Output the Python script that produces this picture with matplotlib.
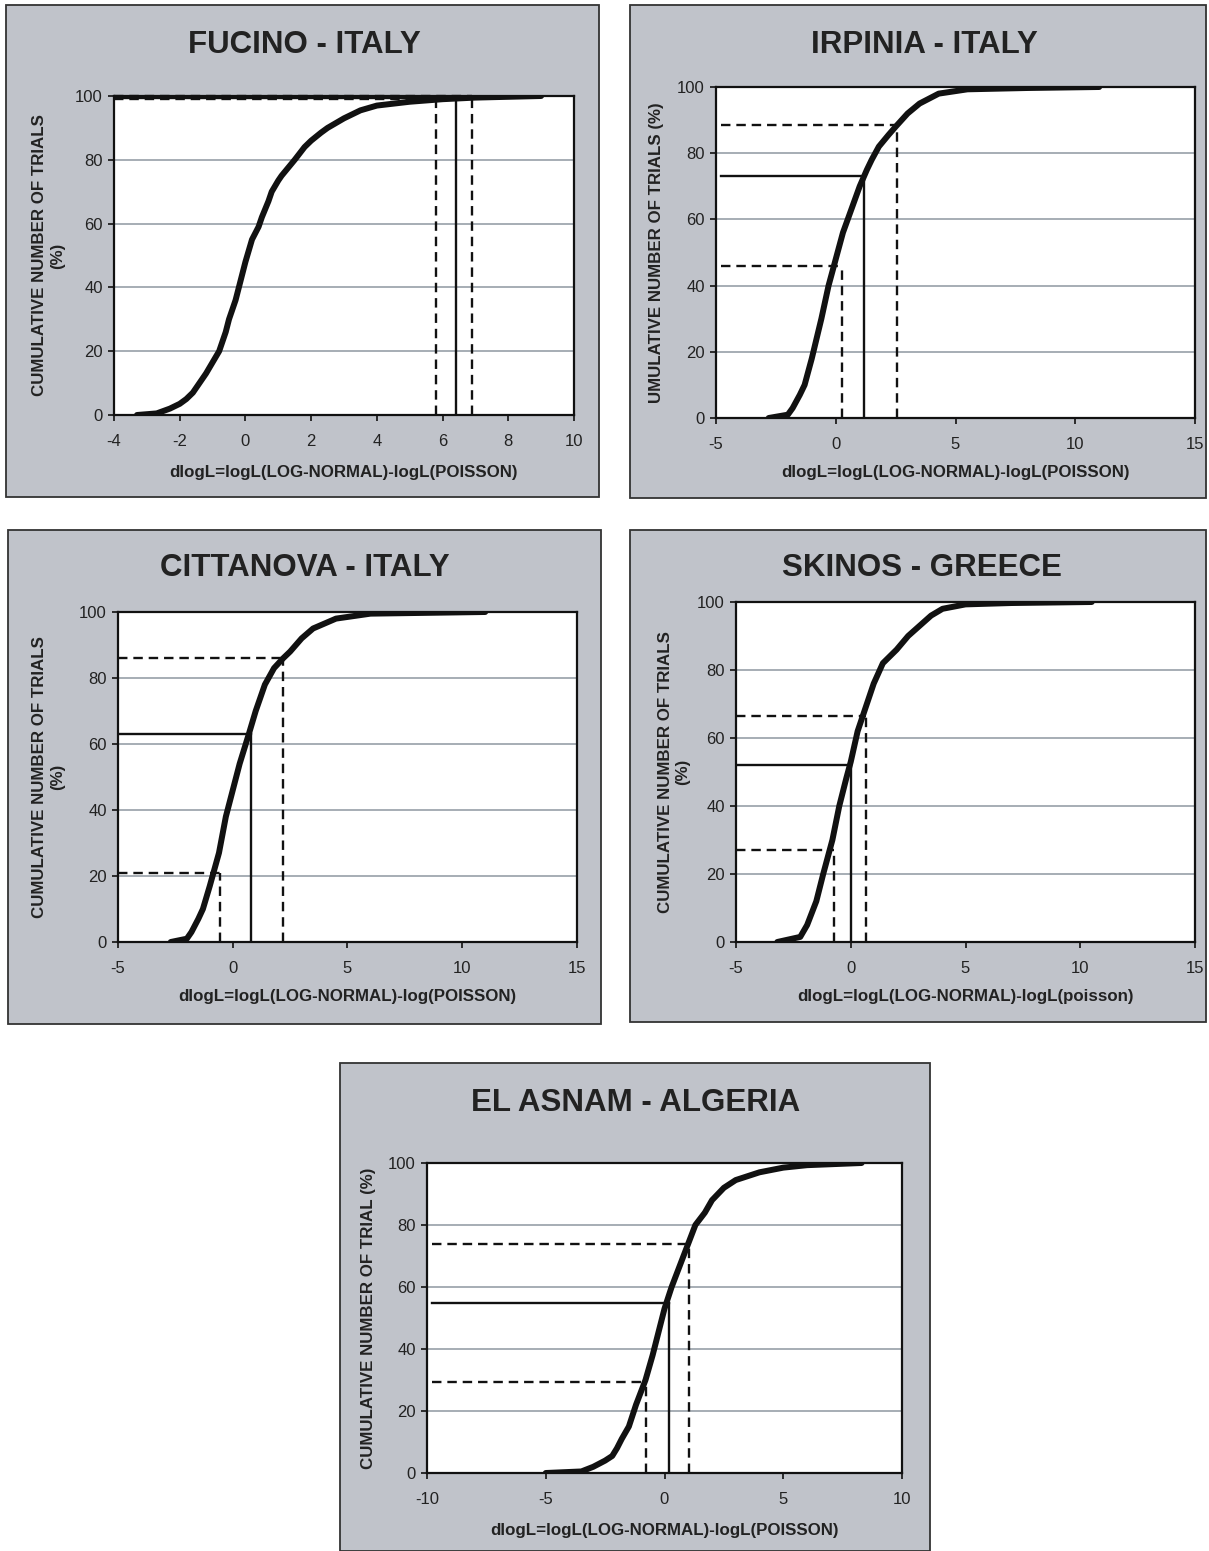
import matplotlib
matplotlib.use("Agg")
import matplotlib.pyplot as plt
from matplotlib.patches import Rectangle

plt.rcParams['font.family'] = ['Liberation Sans', 'DejaVu Sans']
plt.rcParams['axes.unicode_minus'] = False

W, H, DPI = 1209, 1551, 100
BG = '#c0c3ca'
GRID = '#a6adb4'

# ---------------- data ----------------
titles = ["FUCINO - ITALY", "IRPINIA - ITALY", "CITTANOVA - ITALY",
          "SKINOS - GREECE", "EL ASNAM - ALGERIA"]
xlabels = ["dlogL=logL(LOG-NORMAL)-logL(POISSON)",
           "dlogL=logL(LOG-NORMAL)-logL(POISSON)",
           "dlogL=logL(LOG-NORMAL)-log(POISSON)",
           "dlogL=logL(LOG-NORMAL)-logL(poisson)",
           "dlogL=logL(LOG-NORMAL)-logL(POISSON)"]
ylabels = ["CUMULATIVE NUMBER OF TRIALS\n(%)",
           "UMULATIVE NUMBER OF TRIALS (%)",
           "CUMULATIVE NUMBER OF TRIALS\n(%)",
           "CUMULATIVE NUMBER OF TRIALS\n(%)",
           "CUMULATIVE NUMBER OF TRIAL (%)"]
xlims = [(-4, 10), (-5, 15), (-5, 15), (-5, 15), (-10, 10)]
xtick_steps = [2, 5, 5, 5, 5]

fucino_x = [-3.3, -2.7, -2.3, -2.0, -1.8, -1.6, -1.4, -1.2, -1.0, -0.8, -0.6, -0.5, -0.3, -0.2, 0.0, 0.2, 0.4, 0.5, 0.7, 0.8, 1.0, 1.1, 1.3, 1.5, 1.8, 2.0, 2.3, 2.5, 3.0, 3.5, 4.0, 5.0, 6.0, 7.0, 9.0]
fucino_y = [0.0, 0.5, 2.0, 3.5, 5.0, 7.0, 10.0, 13.0, 16.5, 20.0, 26.0, 30.0, 36.0, 40.0, 48.0, 55.0, 59.0, 62.0, 67.0, 70.0, 73.5, 75.0, 77.5, 80.0, 84.0, 86.0, 88.5, 90.0, 93.0, 95.5, 97.0, 98.2, 99.0, 99.5, 100.0]

irpinia_x = [-2.8, -2.0, -1.8, -1.5, -1.3, -1.0, -0.8, -0.6, -0.3, 0.0, 0.3, 0.6, 0.8, 1.0, 1.3, 1.5, 1.8, 2.2, 2.5, 3.0, 3.5, 4.3, 5.5, 8.0, 11.0]
irpinia_y = [0.0, 1.0, 3.0, 7.0, 10.0, 18.0, 24.0, 30.0, 40.0, 48.0, 56.0, 62.0, 66.0, 70.0, 75.0, 78.0, 82.0, 85.5, 88.0, 92.0, 95.0, 98.0, 99.3, 99.7, 100.0]

cittanova_x = [-2.7, -2.0, -1.8, -1.5, -1.3, -1.0, -0.8, -0.6, -0.3, 0.0, 0.3, 0.7, 1.0, 1.4, 1.8, 2.2, 2.5, 3.0, 3.5, 4.5, 6.0, 11.0]
cittanova_y = [0.0, 1.0, 3.0, 7.0, 10.0, 17.0, 22.0, 27.0, 38.0, 46.0, 54.0, 63.0, 70.0, 78.0, 83.0, 86.0, 88.0, 92.0, 95.0, 98.0, 99.5, 100.0]

skinos_x = [-3.2, -2.2, -1.9, -1.7, -1.5, -1.2, -1.0, -0.8, -0.5, -0.2, 0.0, 0.3, 0.6, 1.0, 1.4, 2.0, 2.5, 3.0, 3.5, 4.0, 5.0, 7.0, 10.5]
skinos_y = [0.0, 1.5, 5.0, 8.5, 12.0, 20.0, 25.0, 30.0, 40.0, 48.0, 53.0, 62.0, 68.0, 76.0, 82.0, 86.0, 90.0, 93.0, 96.0, 98.0, 99.3, 99.7, 100.0]

elasnam_x = [-5.0, -3.5, -3.0, -2.5, -2.2, -2.0, -1.8, -1.5, -1.2, -1.0, -0.8, -0.5, -0.2, 0.0, 0.3, 0.6, 1.0, 1.3, 1.7, 2.0, 2.5, 3.0, 4.0, 5.0, 6.0, 8.3]
elasnam_y = [0.0, 0.5, 2.0, 4.0, 5.5, 8.0, 11.0, 15.0, 22.0, 26.0, 30.0, 38.0, 47.0, 53.0, 60.0, 66.0, 74.0, 80.0, 84.0, 88.0, 92.0, 94.5, 97.0, 98.5, 99.3, 100.0]

curves_x = [fucino_x, irpinia_x, cittanova_x, skinos_x, elasnam_x]
curves_y = [fucino_y, irpinia_y, cittanova_y, skinos_y, elasnam_y]

# reference levels: (x value, cumulative %) for solid, dashed-low, dashed-high
solid_x = [6.4, 1.2, 0.8, 0.0, 0.2]
solid_y = [99.5, 73.0, 63.0, 52.0, 55.0]
dlow_x = [5.8, 0.25, -0.55, -0.75, -0.8]
dlow_y = [99.0, 46.0, 21.0, 27.0, 29.5]
dhigh_x = [6.9, 2.55, 2.2, 0.65, 1.05]
dhigh_y = [100.0, 88.5, 86.0, 66.5, 74.0]

# ---------------- layout (pixels) ----------------
boxes = [(6, 5, 599, 497), (630, 5, 1206, 498), (8, 530, 601, 1024),
         (630, 530, 1206, 1022), (340, 1063, 930, 1551)]
plots = [(114, 96, 574, 415), (716, 87, 1195, 418), (118, 612, 577, 942),
         (736, 602, 1195, 942), (427, 1163, 902, 1473)]
title_pos = [(304, 45), (924, 45), (305, 568), (922, 568), (636, 1103)]
xlabel_y = [472, 472, 997, 997, 1530]
ylabel_x = [49, 657, 49, 674, 368]
horiz_start = [-4.0, -4.8, -5.0, -5.0, -9.8]

fig = plt.figure(figsize=(W / DPI, H / DPI), dpi=DPI)
fig.patch.set_facecolor('white')


def fx(px):
    return px / W


def fy(py):
    return 1 - py / H


for i in range(5):
    bx0, by0, bx1, by1 = boxes[i]
    fig.patches.append(Rectangle((fx(bx0), fy(by1)), fx(bx1 - bx0), (by1 - by0) / H,
                                 transform=fig.transFigure, facecolor=BG,
                                 edgecolor='#333333', linewidth=1.3, zorder=-5))
    px0, py0, px1, py1 = plots[i]
    ax = fig.add_axes([fx(px0), fy(py1), fx(px1 - px0), (py1 - py0) / H])
    ax.set_zorder(2)
    ax.set_facecolor('white')
    xmin, xmax = xlims[i]
    ax.set_xlim(xmin, xmax)
    ax.set_ylim(0, 100)
    step = xtick_steps[i]
    ax.set_xticks(list(range(xmin, xmax + 1, step)))
    ax.set_yticks([0, 20, 40, 60, 80, 100])
    for g in [20, 40, 60, 80]:
        ax.axhline(g, color=GRID, lw=1.4, zorder=1)
    for s in ['top', 'right', 'left', 'bottom']:
        ax.spines[s].set_linewidth(1.6)
        ax.spines[s].set_color('#111111')
    ax.tick_params(direction='out', length=4, width=1.2, labelsize=12,
                   colors='#111111', labelcolor='#222222', pad=4)
    ax.tick_params(axis='x', pad=10)

    # reference lines
    x0 = horiz_start[i]
    ax.plot([x0, solid_x[i]], [solid_y[i], solid_y[i]], color='#111111', lw=1.7, zorder=3)
    ax.plot([solid_x[i], solid_x[i]], [0, solid_y[i]], color='#111111', lw=1.7, zorder=3)
    for dx, dy in [(dlow_x[i], dlow_y[i]), (dhigh_x[i], dhigh_y[i])]:
        ax.plot([x0, dx], [dy, dy], color='#111111', lw=1.7, ls=(0, (4, 2.5)), zorder=3, clip_on=False)
        ax.plot([dx, dx], [0, dy], color='#111111', lw=1.7, ls=(0, (4, 2.5)), zorder=3)

    ax.plot(curves_x[i], curves_y[i], color='#111111', lw=4.3, solid_capstyle='round',
            solid_joinstyle='round', zorder=4)

    fig.text(fx(title_pos[i][0]), fy(title_pos[i][1]), titles[i], ha='center', va='center',
             fontsize=22.5, fontweight='bold', color='#222222')
    fig.text(fx((px0 + px1) / 2), fy(xlabel_y[i]), xlabels[i], ha='center', va='center',
             fontsize=12.2, fontweight='bold', color='#222222')
    fig.text(fx(ylabel_x[i]), fy((py0 + py1) / 2), ylabels[i], ha='center', va='center',
             rotation=90, fontsize=12.2, fontweight='bold', color='#222222', linespacing=1.25)

fig.savefig('out.png', dpi=DPI, facecolor='white')
